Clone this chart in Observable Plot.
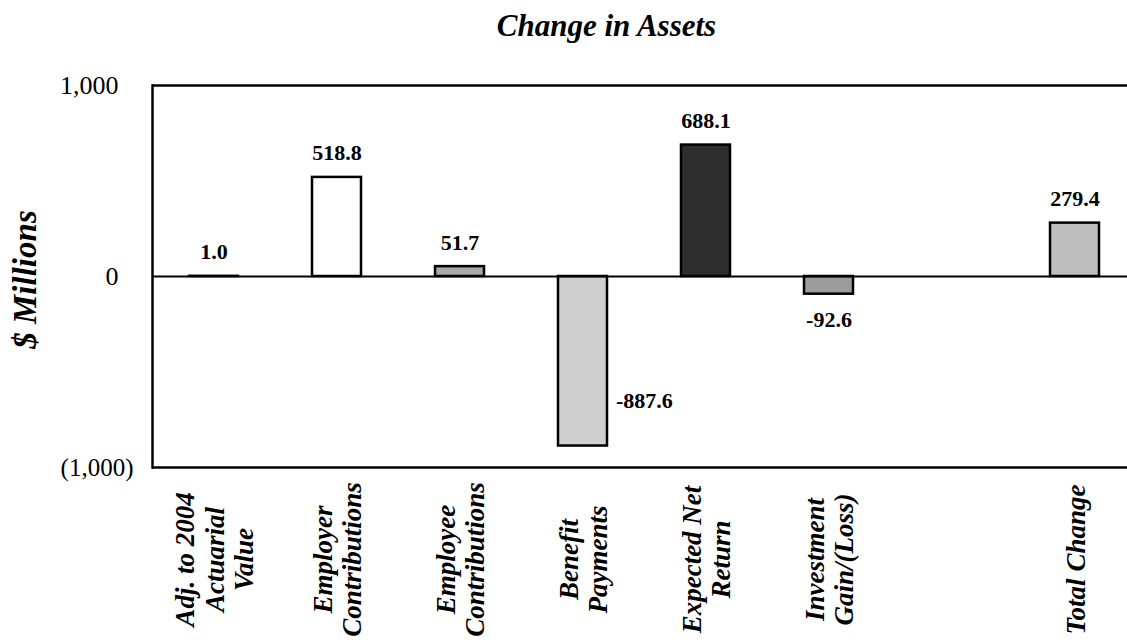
<!DOCTYPE html>
<html>
<head>
<meta charset="utf-8">
<script src="https://cdn.jsdelivr.net/npm/d3@7"></script>
<script src="https://cdn.jsdelivr.net/npm/@observablehq/plot@0.6"></script>
<style>
  html, body { margin: 0; padding: 0; background: #fff; }
  #wrap { width: 1127px; height: 642px; overflow: hidden; position: relative; }
  #title { height: 60px; box-sizing: border-box; padding-top: 10px; padding-left: 86px;
           text-align: center; font-family: "Liberation Serif", serif; font-weight: bold;
           font-style: italic; font-size: 31px; line-height: 31px; color: #000; }
  svg { display: block; }
</style>
</head>
<body>
<div id="wrap">
  <div id="title">Change in Assets</div>
  <div id="chart"></div>
</div>
<script>
// ---- data ----
const categories = [
  "Adj. to 2004\nActuarial\nValue",
  "Employer\nContributions",
  "Employee\nContributions",
  "Benefit\nPayments",
  "Expected Net\nReturn",
  "Investment\nGain/(Loss)",
  "",
  "Total Change"
];
const values = [1.0, 518.8, 51.7, -887.6, 688.1, -92.6, null, 279.4];
const valueLabels = ["1.0", "518.8", "51.7", "-887.6", "688.1", "-92.6", "", "279.4"];
const yTicks = [1000, 0, -1000];
const yLabel = "$ Millions";

// ---- styles (not data) ----
const barFills = ["#9a9a9a", "#ffffff", "#a8a8a8", "#cfcfcf", "#2e2e2e", "#9c9c9c", "#ffffff", "#bdbdbd"];

const rows = categories.map((c, i) => ({cat: c, value: values[i], label: valueLabels[i]}))
  .filter(d => d.value != null);

const fmt = d3.format(",");
const serif = "Liberation Serif";

const plot = Plot.plot({
  width: 1127,
  height: 582,
  marginTop: 25,
  marginBottom: 175,
  marginLeft: 152,
  marginRight: 0,
  style: {fontFamily: serif, background: "#fff", color: "#000"},
  x: {domain: categories, range: [152, 1136], paddingInner: 0.6, paddingOuter: 0.29, axis: null},
  y: {domain: [-1000, 1000], axis: null},
  color: {type: "ordinal", domain: categories, range: barFills},
  marks: [
    Plot.barY(rows, {x: "cat", y: "value", fill: "cat", stroke: "#000", strokeWidth: 2.5}),
    Plot.ruleY([0], {stroke: "#000", strokeWidth: 2.2}),
    Plot.ruleY([yTicks[0], yTicks[2]], {stroke: "#000", strokeWidth: 2.5}),
    Plot.frame({anchor: "left", stroke: "#000", strokeWidth: 2.5}),
    // y tick labels
    Plot.axisY(yTicks.filter(d => d >= 0), {tickSize: 0, tickPadding: 34, tickFormat: fmt,
      fontSize: 26, fontFamily: serif, label: null}),
    Plot.axisY(yTicks.filter(d => d < 0), {tickSize: 0, tickPadding: 19,
      tickFormat: d => `(${fmt(-d)})`, fontSize: 25, fontFamily: serif, label: null}),
    // y axis title
    Plot.text([yLabel], {frameAnchor: "left", dx: -127, dy: 3, rotate: -90, text: d => d,
      textAnchor: "middle", lineAnchor: "middle",
      fontSize: 33, fontWeight: "bold", fontStyle: "italic", fontFamily: serif}),
    // category labels
    Plot.text(categories, {x: d => d, text: d => d, frameAnchor: "bottom", dy: 92, rotate: -90,
      textAnchor: "middle", lineAnchor: "middle", lineHeight: 1.1,
      fontSize: 27, fontWeight: "bold", fontStyle: "italic", fontFamily: serif}),
    // value labels: positive above
    Plot.text(rows.filter(d => d.value >= 0), {x: "cat", y: "value", text: "label",
      lineAnchor: "bottom", dy: -17, fontSize: 22, fontWeight: "bold", fontFamily: serif}),
    // small negatives below
    Plot.text(rows.filter(d => d.value < 0 && d.value > -500), {x: "cat", y: "value", text: "label",
      lineAnchor: "top", dy: 17, fontSize: 22, fontWeight: "bold", fontFamily: serif}),
    // large negatives to the right
    Plot.text(rows.filter(d => d.value <= -500), {x: "cat", y: "value", text: "label",
      textAnchor: "start", lineAnchor: "middle", dx: 33, dy: -45, fontSize: 22, fontWeight: "bold", fontFamily: serif})
  ]
});
document.getElementById("chart").appendChild(plot);
</script>
</body>
</html>
